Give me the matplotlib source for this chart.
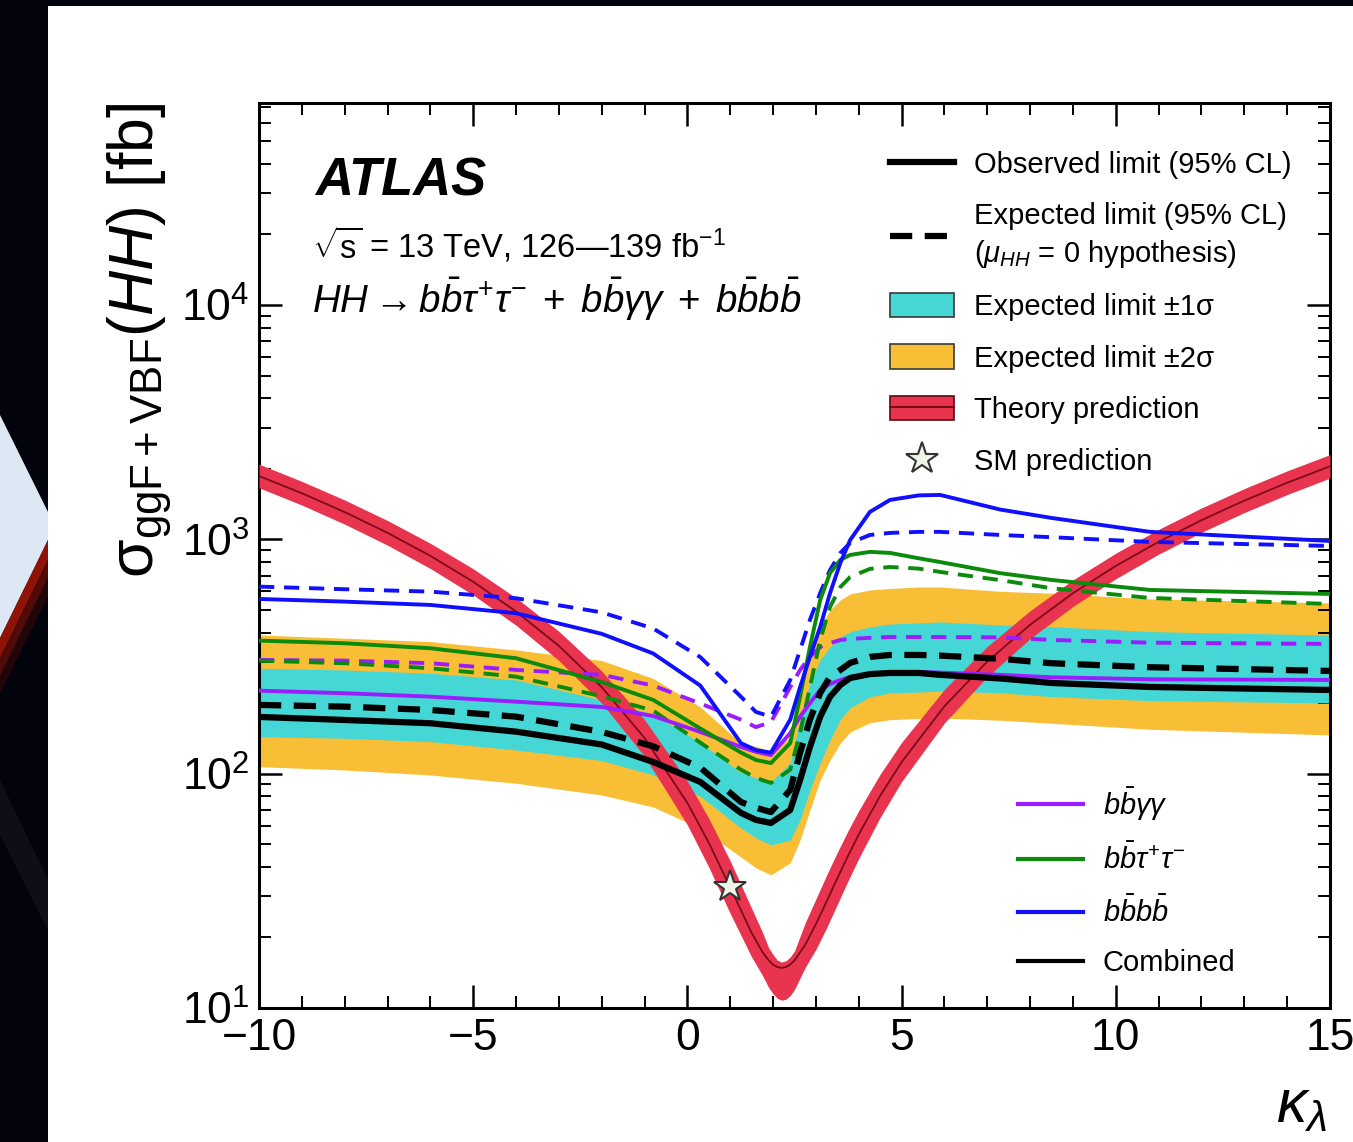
import numpy as np
import matplotlib
matplotlib.use('Agg')
import matplotlib.pyplot as plt
from matplotlib import font_manager
from matplotlib.lines import Line2D
from matplotlib.patches import Patch, Polygon, Rectangle
from matplotlib.legend_handler import HandlerTuple
from matplotlib.ticker import LogLocator, MultipleLocator, NullFormatter

# kappa_lambda points for the limit curves
kl = [-10, -8, -6, -4, -2, -0.8, 0.3, 1.25, 1.6, 1.95, 2.4, 2.63, 2.86, 3.1, 3.33, 3.57,
      3.8, 4.26, 4.73, 5.4, 5.9, 7.3, 8.5, 10.8, 15]

# combined limits [fb]
obs_comb = [174.6, 169.5, 164.1, 151.1, 133.2, 112.2, 92.2, 68.0, 63.5, 61.6, 70.0, 94.0, 130,
            175, 213, 239, 256, 266, 269, 269, 264, 254.9, 243.8, 234.4, 227.6]
exp_comb = [196.5, 193.2, 187.0, 175.1, 150.7, 130.9, 106.1, 75.7, 71.5, 68.6, 85.2, 123, 170,
            221, 259, 277, 297, 315, 321, 321, 319, 309.3, 296.0, 284.6, 274.4]
exp_1s_hi = [281.8, 277.1, 268.3, 251.1, 206.5, 179.5, 135.6, 101, 96, 92.2, 111, 170, 244,
             306, 347, 383, 403, 423, 435, 440, 444, 431.2, 424.1, 403.8, 390.8]
exp_1s_lo = [143.8, 141.6, 137.0, 126.2, 113.7, 98.8, 80.1, 58.6, 53.2, 49.6, 52.1, 63.5, 85.2,
             111, 139, 170, 191, 213, 221, 223, 225, 221.5, 213.1, 204.9, 200.3]
exp_2s_hi = [390.8, 378.4, 366.0, 337.3, 303.9, 254.9, 192.6, 135, 131, 124, 143, 213, 315,
             423, 500, 551, 585, 608, 617, 626, 626, 600, 589, 556.7, 535.3]
exp_2s_lo = [107.1, 103.7, 98.7, 91.0, 81.1, 72.1, 58.4, 44.1, 39.6, 37.0, 41.6, 52.1, 70.0,
             94.0, 114.4, 135, 150.7, 165, 170, 172, 173, 169, 164.1, 154.7, 146.3]

# single channel limits [fb]
bbtt_obs = [369.6, 360.2, 342.9, 310.9, 246.0, 206.5, 155.9, 123, 114.4, 111, 135, 213, 347,
            551, 719, 817, 858, 884, 875, 830, 800, 717.3, 671.0, 608.1, 584.8]
bbtt_exp = [303.6, 296.0, 281.8, 259.4, 214.0, 185.9, 135.6, 104, 95.9, 91.3, 104, 149, 234,
            372, 515, 626, 691, 748, 762, 750, 726, 670, 618.4, 562, 530]
bbyy_obs = [226.1, 220.4, 213.2, 202.9, 192.6, 176.3, 150.7, 130, 124, 120, 149, 175, 200,
            228, 241.5, 251, 259, 264, 269, 272, 270, 264.1, 257.8, 252.8, 251.1]
bbyy_exp = [305.7, 303.6, 296.0, 277.1, 264.1, 237.7, 199.3, 170, 158, 166, 234, 277, 315,
            347, 361, 372, 376, 380, 383, 383, 383, 381.7, 372.1, 362.3, 357.8]
bbbb_obs = [556.7, 542.2, 524.8, 483.8, 395.1, 325.8, 237.7, 135, 126, 123, 170, 234, 315,
            423, 590, 793, 994, 1309, 1473, 1540, 1547, 1340, 1234, 1076, 984]
bbbb_exp = [628.4, 612.4, 598.2, 560.6, 488.0, 416.6, 314.5, 213, 183.4, 175, 251, 337, 453,
            590, 740, 875, 965, 1044, 1065, 1076, 1076, 1044, 1021, 974.7, 937]

# theory prediction ggF+VBF [fb] with its band
kl_th = [-10, -9, -8, -7, -6, -5, -4, -3, -2, -1, 0, 0.5, 1, 1.5, 1.75, 1.9, 2.0, 2.1, 2.2, 2.3,
         2.4, 2.5, 2.75, 3, 3.25, 3.5, 3.75, 4, 4.5, 5, 6, 7, 8, 9, 10, 11, 12, 13, 14, 15]
th_c = [1863, 1573, 1307, 1066, 850, 659, 492, 351, 234, 142, 75.0, 50.7, 32.7, 20.9, 17.35,
        15.95, 15.3, 14.96, 14.83, 14.95, 15.33, 15.95, 18.6, 22.8, 28.5, 35.8, 44.6, 55.0,
        80.5, 112, 194, 301, 432, 589, 770, 976, 1207, 1463, 1744, 2049]
th_hi = [2093, 1768, 1472, 1203, 962, 749, 563, 405, 274, 170, 93.0, 64.5, 42.4, 26.6, 21.1,
         18.0, 16.9, 16.0, 15.7, 15.9, 16.5, 17.5, 23.1, 29.2, 36.9, 46.2, 57.1, 69.6, 99.5,
         136, 229, 349, 496, 671, 873, 1103, 1361, 1646, 1960, 2299]
th_lo = [1660, 1400, 1161, 944, 751, 579, 430, 304, 200, 118.6, 60.4, 39.9, 25.3, 16.5, 13.8,
         12.2, 11.5, 11.0, 10.8, 10.9, 11.3, 12.0, 14.9, 17.8, 22.0, 27.7, 34.9, 43.5, 65.1,
         92.5, 164.6, 259, 377, 517, 679, 864, 1071, 1301, 1552, 1826]
sm_kl, sm_xs = 1.0, 32.7

c_blue, c_green, c_purple = '#1010ff', '#0b8a0b', '#9a1cff'
c_1s, c_2s = '#44d7d6', '#f8bf36'
c_th, c_thline = '#e8344f', '#7d0a18'

installed = {f.name for f in font_manager.fontManager.ttflist}
if 'Liberation Sans Narrow' in installed:
    fam, fs = 'Liberation Sans Narrow', 1.0
else:
    fam, fs = 'Liberation Sans', 0.84

plt.rcParams['font.family'] = [fam, 'DejaVu Sans']
plt.rcParams['mathtext.fontset'] = 'custom'
plt.rcParams['mathtext.rm'] = fam
plt.rcParams['mathtext.it'] = fam + ':italic'
plt.rcParams['mathtext.bf'] = fam + ':bold'
plt.rcParams['mathtext.sf'] = fam
plt.rcParams['lines.scale_dashes'] = False

W, H = 1353, 1142
fig = plt.figure(figsize=(W / 100, H / 100), dpi=100, facecolor='#03030d')


def fx(px):
    return px / W


def fy(py):
    return 1 - py / H


# white page plus the slide decoration on the left
fig.patches.append(Rectangle((fx(48), 0), 1 - fx(48), fy(6), transform=fig.transFigure,
                             facecolor='white', edgecolor='none', zorder=-10))
deco = [
    ([(0, 415), (48, 512), (48, 540), (0, 638)], '#dde8f4', 1.0),
    ([(48, 540), (48, 560), (0, 658), (0, 638)], '#8f1407', 1.0),
    ([(48, 560), (48, 578), (0, 676), (0, 658)], '#5a0c06', 0.9),
    ([(48, 578), (48, 596), (0, 694), (0, 676)], '#2a0608', 0.8),
    ([(0, 780), (48, 880), (48, 930), (0, 835)], '#1d1d28', 0.45),
]
for pts, col, a in deco:
    fig.patches.append(Polygon([(fx(x), fy(y)) for x, y in pts], closed=True,
                               transform=fig.transFigure, facecolor=col, edgecolor='none',
                               alpha=a, zorder=-10))

ax = fig.add_axes([fx(259), fy(1008), fx(1330) - fx(259), fy(103) - fy(1008)])
ax.set_zorder(1)
ax.set_yscale('log')
ax.set_xlim(-10, 15)
ax.set_ylim(10, 10 ** 4.862)

ax.fill_between(kl, exp_2s_lo, exp_2s_hi, color=c_2s, lw=0, zorder=1)
ax.fill_between(kl, exp_1s_lo, exp_1s_hi, color=c_1s, lw=0, zorder=2)
ax.fill_between(kl_th, th_lo, th_hi, color=c_th, lw=0, zorder=3)
ax.plot(kl_th, th_c, color=c_thline, lw=1.3, zorder=4)

dash_c = (0, (11, 7))
dash_k = (0, (16, 9))
ax.plot(kl, bbyy_exp, color=c_purple, lw=2.8, ls=dash_c, zorder=5)
ax.plot(kl, bbtt_exp, color=c_green, lw=2.8, ls=dash_c, zorder=5)
ax.plot(kl, bbbb_exp, color=c_blue, lw=2.8, ls=dash_c, zorder=5)
ax.plot(kl, bbyy_obs, color=c_purple, lw=2.8, zorder=5)
ax.plot(kl, bbtt_obs, color=c_green, lw=2.8, zorder=5)
ax.plot(kl, bbbb_obs, color=c_blue, lw=2.8, zorder=5)
ax.plot(kl, exp_comb, color='k', lw=4.5, ls=dash_k, zorder=6)
ax.plot(kl, obs_comb, color='k', lw=4.5, zorder=6)
ax.plot([sm_kl], [sm_xs], ls='none', marker='*', ms=24, mfc='#eef4e6', mec='#333333',
        mew=1.5, zorder=8)

# axes style
ax.xaxis.set_major_locator(MultipleLocator(5))
ax.xaxis.set_minor_locator(MultipleLocator(1))
ax.yaxis.set_major_locator(LogLocator(base=10, numticks=10))
ax.yaxis.set_minor_locator(LogLocator(base=10, subs=np.arange(2, 10), numticks=20))
ax.yaxis.set_minor_formatter(NullFormatter())
ax.tick_params(which='both', direction='in', top=True, right=True)
ax.tick_params(which='major', length=16.5, width=1.8, labelsize=38 * fs, pad=7)
ax.tick_params(which='minor', length=8.5, width=1.4)
for sp in ax.spines.values():
    sp.set_linewidth(2.2)

ax.set_ylabel(r'$\mathrm{\sigma}_{\mathrm{ggF+VBF}}(HH)$ [fb]', fontsize=45, loc='top',
              family=['Liberation Sans', 'DejaVu Sans'])
ax.yaxis.set_label_coords(-0.0795, 1.0)
ax.set_xlabel(r'$\kappa_{\lambda}$', fontsize=52 * fs, loc='right')
ax.xaxis.set_label_coords(0.997, -0.078)

ax.text(0.0523, 0.898, 'ATLAS', transform=ax.transAxes, fontsize=45 * fs,
        fontweight='bold', fontstyle='italic', va='baseline')
ax.text(0.0495, 0.829, r'$\sqrt{\mathrm{s}}$ = 13 TeV, 126' + '\u2014' + r'139 fb$^{-1}$',
        transform=ax.transAxes, fontsize=28 * fs, va='baseline')
ax.text(0.0495, 0.768,
        r'$HH \rightarrow b\bar{b}\tau^{+}\tau^{-}\;+\;b\bar{b}\gamma\gamma\;+\;b\bar{b}b\bar{b}$',
        transform=ax.transAxes, fontsize=33 * fs, va='baseline')

# legend for the combined result
h_obs = Line2D([], [], color='k', lw=4.5)
h_exp = Line2D([], [], color='k', lw=4.5, ls=dash_k)
h_1s = Patch(facecolor=c_1s, edgecolor='#3a3a3a', lw=1.2)
h_2s = Patch(facecolor=c_2s, edgecolor='#3a3a3a', lw=1.2)
h_th = (Patch(facecolor=c_th, edgecolor='#5a0a10', lw=1.2), Line2D([], [], color=c_thline, lw=1.5))
h_sm = Line2D([], [], ls='none', marker='*', ms=24, mfc='#eef4e6', mec='#333333', mew=1.5)
labels1 = ['Observed limit (95% CL)',
           'Expected limit (95% CL)\n($\\mu_{HH}$ = 0 hypothesis)',
           'Expected limit \u00b11\u03c3', 'Expected limit \u00b12\u03c3',
           'Theory prediction', 'SM prediction']
leg1 = ax.legend([h_obs, h_exp, h_1s, h_2s, h_th, h_sm], labels1, loc='upper left',
                 bbox_to_anchor=(0.589, 0.947), frameon=False, fontsize=25 * fs,
                 handlelength=2.2, handleheight=0.9, handletextpad=0.7, labelspacing=0.8,
                 borderpad=0, borderaxespad=0,
                 handler_map={tuple: HandlerTuple(ndivide=1, pad=0)})
leg1.get_texts()[1].set_linespacing(1.3)
ax.add_artist(leg1)

# legend for the channels
h_ch = [Line2D([], [], color=c_purple, lw=3), Line2D([], [], color=c_green, lw=3),
        Line2D([], [], color=c_blue, lw=3), Line2D([], [], color='k', lw=3)]
labels2 = [r'$b\bar{b}\gamma\gamma$', r'$b\bar{b}\tau^{+}\tau^{-}$', r'$b\bar{b}b\bar{b}$', 'Combined']
ax.legend(h_ch, labels2, loc='upper left', bbox_to_anchor=(0.709, 0.2464), frameon=False,
          fontsize=25 * fs, handlelength=2.2, handletextpad=0.7, labelspacing=0.72,
          borderpad=0, borderaxespad=0)

fig.savefig('out.png', dpi=100, facecolor=fig.get_facecolor())
